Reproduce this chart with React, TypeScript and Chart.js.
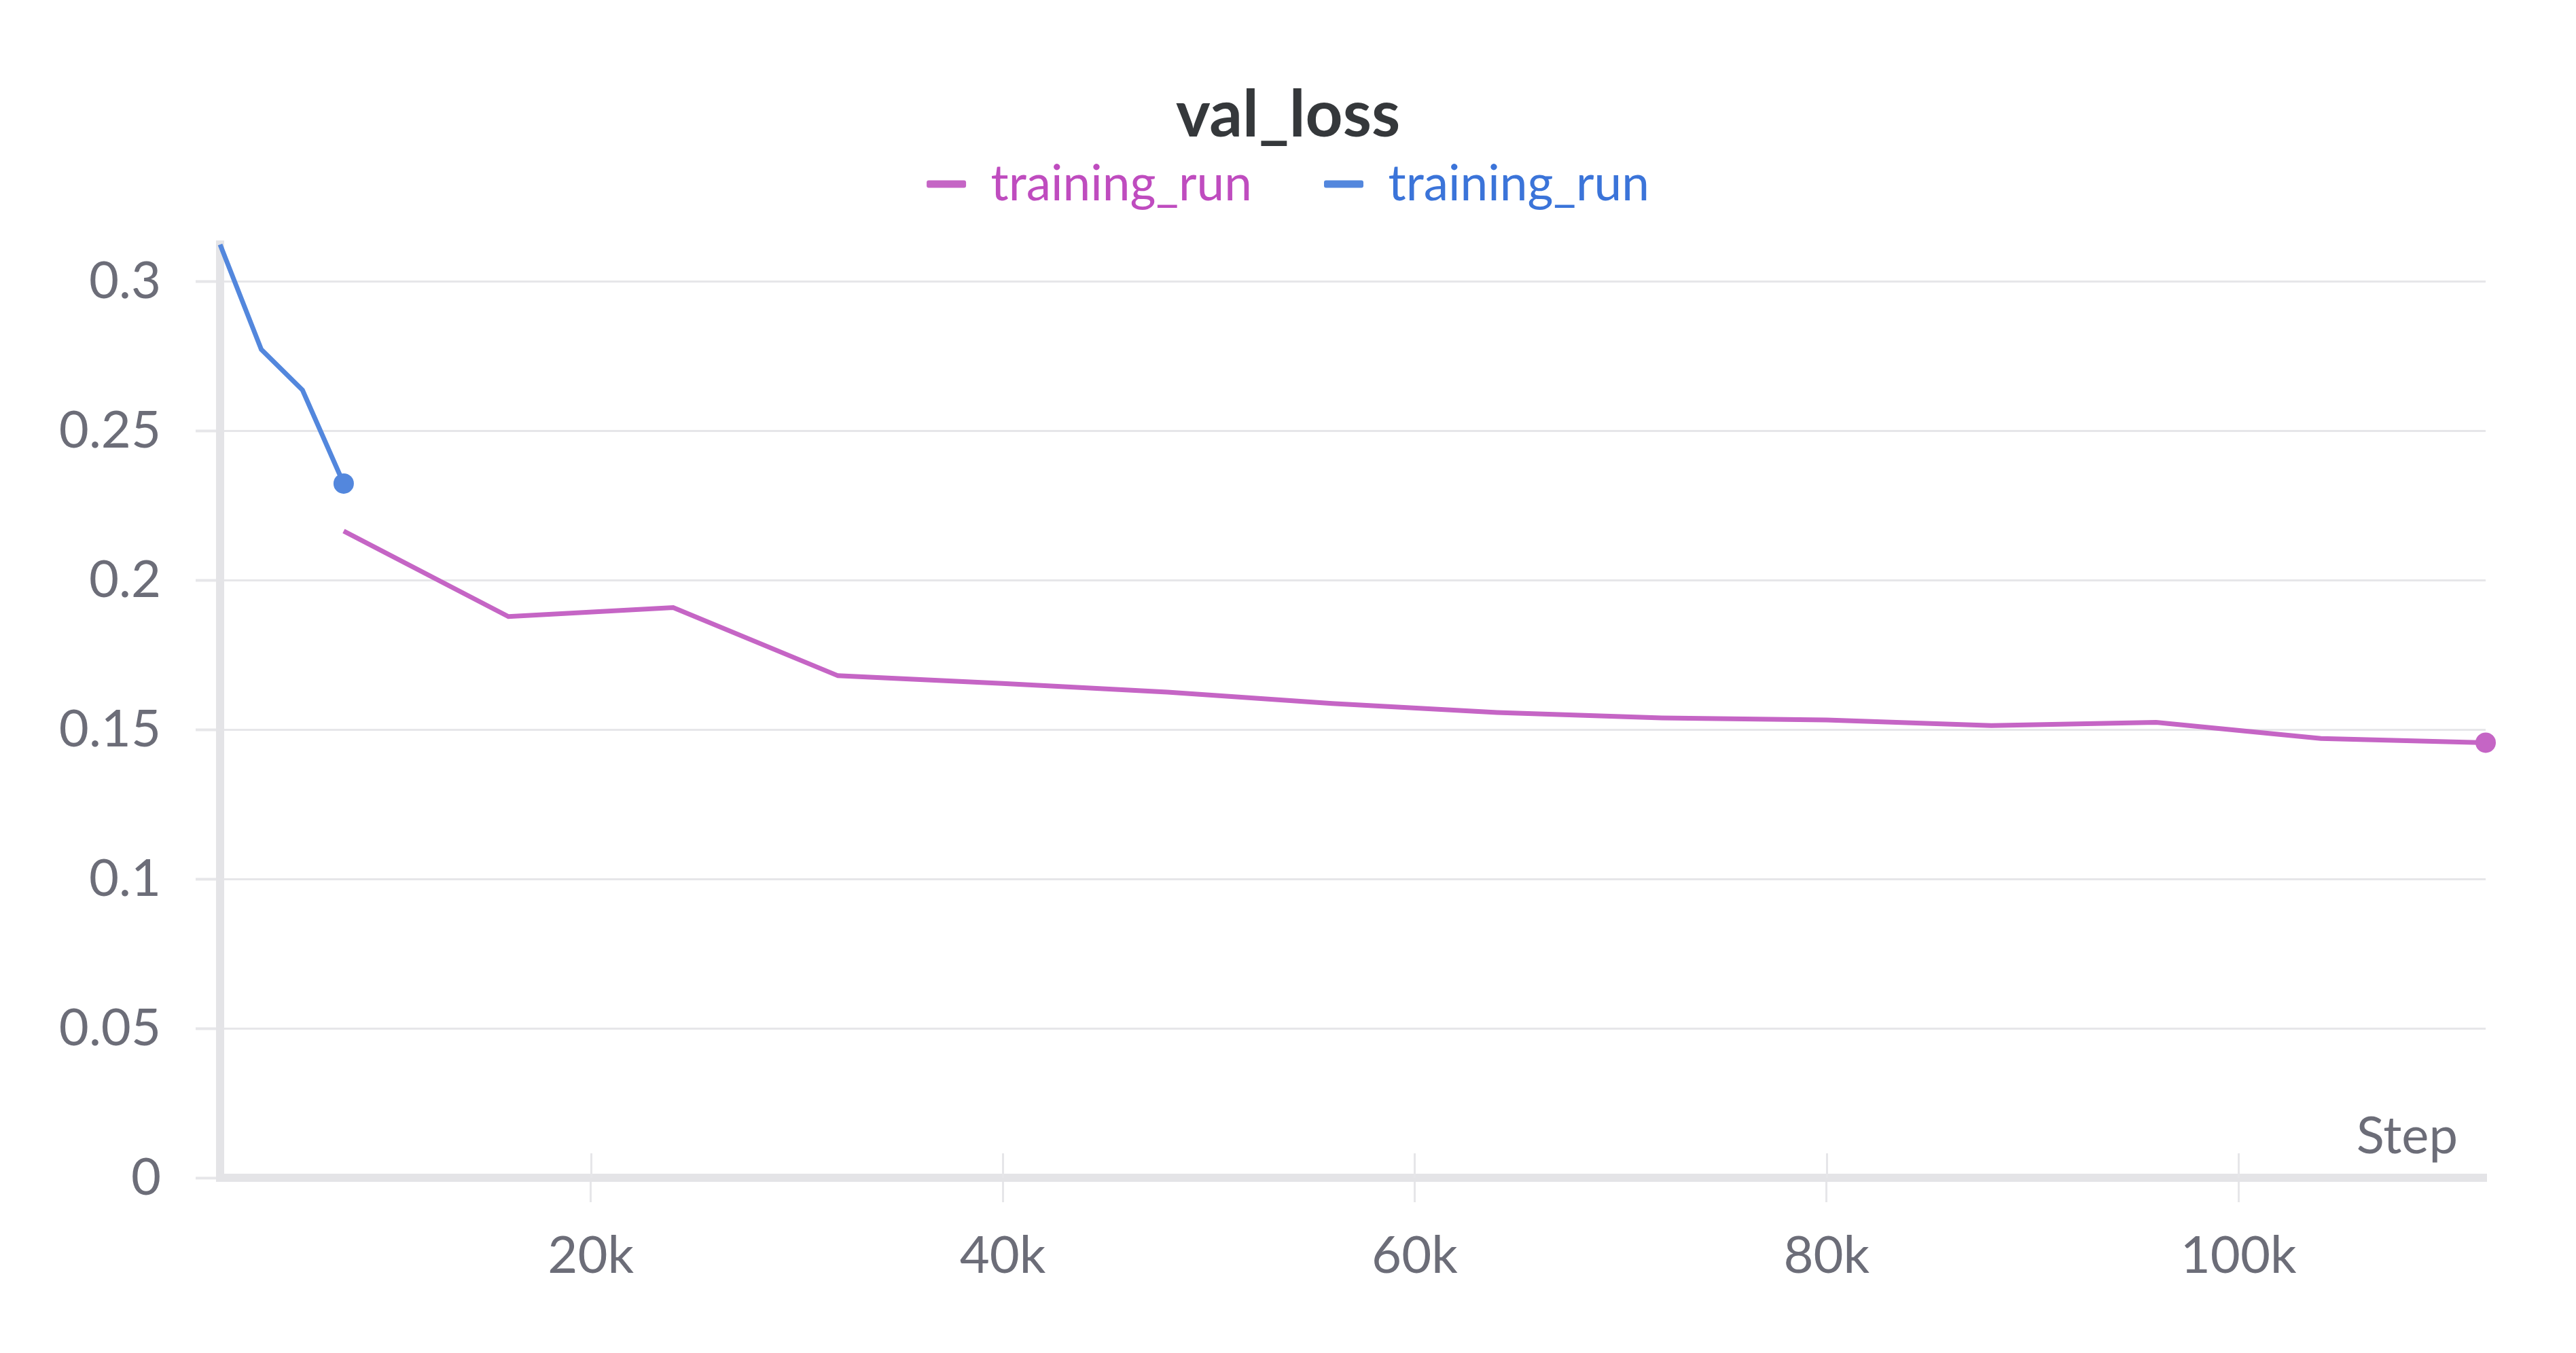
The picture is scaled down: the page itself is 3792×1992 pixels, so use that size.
import React, { useEffect, useRef } from "react";
import { Chart, registerables } from "chart.js";

Chart.register(...registerables);

// ---- data ----
const blueSteps = [2000, 4000, 6000, 8000];
const blueValues = [0.3123, 0.2772, 0.2636, 0.2323];
const pinkSteps = [8000, 16000, 24000, 32000, 40000, 48000, 56000, 64000, 72000, 80000, 88000, 96000, 104000, 112000];
const pinkValues = [0.2164, 0.1878, 0.1908, 0.168, 0.1654, 0.1625, 0.1587, 0.1557, 0.1539, 0.1532, 0.1513, 0.1524, 0.147, 0.1456];
const xTicks = [20000, 40000, 60000, 80000, 100000];
const yTicks = [0, 0.05, 0.1, 0.15, 0.2, 0.25, 0.3];
const seriesLabels = ["training_run", "training_run"];
const titleText = "val_loss";
const xAxisLabel = "Step";

const PINK = "#c565c5";
const BLUE = "#5387dd";
const PINK_TEXT = "#bf4cbf";
const BLUE_TEXT = "#3b74d9";
const TICK_COLOR = "#6c6d78";
const GRID = "#e6e6e9";
const AXIS = "#e4e4e7";
const FONT = "Lato";

const W = 3792;
const H = 1992;

const extrasPlugin = {
  id: "extras",
  afterDraw(chart: any) {
    const { ctx, chartArea } = chart;
    const xs = chart.scales.x;
    ctx.save();
    // tick marks reaching into the plot above the x axis
    ctx.strokeStyle = GRID;
    ctx.lineWidth = 3;
    for (const v of xTicks) {
      const px = Math.round(xs.getPixelForValue(v)) + 0.5;
      ctx.beginPath();
      ctx.moveTo(px, chartArea.bottom - 36);
      ctx.lineTo(px, chartArea.bottom);
      ctx.stroke();
    }
    // axis name inside the plot
    ctx.font = `76px ${FONT}`;
    ctx.fillStyle = TICK_COLOR;
    ctx.textAlign = "right";
    ctx.textBaseline = "alphabetic";
    ctx.fillText(xAxisLabel, chartArea.right - 41, chartArea.bottom - 36);
    ctx.restore();
  },
};

export default function App() {
  const ref = useRef<HTMLCanvasElement | null>(null);

  useEffect(() => {
    document.body.style.margin = "0";
    document.body.style.overflow = "hidden";
    const canvas = ref.current;
    if (!canvas) return;
    const yMax = Math.max(...blueValues, ...pinkValues);
    const chart = new Chart(canvas, {
      type: "line",
      data: {
        datasets: [
          {
            label: seriesLabels[0],
            data: pinkSteps.map((s, i) => ({ x: s, y: pinkValues[i] })),
            borderColor: PINK,
            backgroundColor: PINK,
            borderWidth: 7,
            pointRadius: (c: any) => (c.dataIndex === pinkSteps.length - 1 ? 15 : 0),
            pointBorderWidth: 0,
            pointHoverRadius: 0,
            tension: 0,
            clip: false as any,
            yAxisID: "y",
          },
          {
            label: seriesLabels[1],
            data: blueSteps.map((s, i) => ({ x: s, y: blueValues[i] })),
            borderColor: BLUE,
            backgroundColor: BLUE,
            borderWidth: 7,
            pointRadius: (c: any) => (c.dataIndex === blueSteps.length - 1 ? 15 : 0),
            pointBorderWidth: 0,
            pointHoverRadius: 0,
            tension: 0,
            clip: false as any,
            yAxisID: "y",
          },
        ],
      },
      options: {
        animation: false,
        responsive: false,
        devicePixelRatio: 1,
        events: [],
        layout: { padding: { top: 0, left: 0, right: 0, bottom: 0 } },
        plugins: {
          tooltip: { enabled: false },
          title: {
            display: true,
            text: titleText,
            color: "#35383b",
            font: { family: FONT, size: 96, weight: "bold", lineHeight: 1.2 },
            padding: { top: 112, bottom: -98.7 },
          },
          subtitle: {
            display: true,
            text: "",
            weight: 500,
            font: { family: FONT, size: 10, lineHeight: 1 },
            padding: { top: 32.5, bottom: 0 },
          } as any,
          legend: {
            display: true,
            position: "top",
            labels: {
              font: { family: FONT, size: 73 },
              boxWidth: 58,
              boxHeight: 11,
              padding: 106,
              useBorderRadius: true,
              borderRadius: 3,
              generateLabels: (ch: any) =>
                ch.data.datasets.map((ds: any, i: number) => ({
                  text: ds.label,
                  fillStyle: ds.borderColor,
                  strokeStyle: ds.borderColor,
                  lineWidth: 0,
                  fontColor: i === 0 ? PINK_TEXT : BLUE_TEXT,
                  hidden: false,
                  datasetIndex: i,
                  borderRadius: 3,
                })),
            },
          } as any,
        },
        scales: {
          x: {
            type: "linear",
            min: 2000,
            max: 112000,
            afterBuildTicks: (s: any) => {
              s.ticks = xTicks.map((v) => ({ value: v }));
            },
            afterFit: (s: any) => {
              s.height = 258;
            },
            ticks: {
              color: TICK_COLOR,
              font: { family: FONT, size: 76 },
              padding: 34,
              maxRotation: 0,
              callback: (v: any) => `${Number(v) / 1000}k`,
            },
            grid: {
              display: true,
              drawOnChartArea: false,
              drawTicks: true,
              tickLength: 36,
              color: GRID,
              lineWidth: 3,
            },
            border: { display: true, color: AXIS, width: 12 },
          },
          y: {
            type: "linear",
            position: "left",
            min: 0,
            max: yMax,
            afterBuildTicks: (s: any) => {
              s.ticks = yTicks.map((v) => ({ value: v }));
            },
            afterFit: (s: any) => {
              s.width = 324;
            },
            ticks: {
              color: TICK_COLOR,
              font: { family: FONT, size: 76 },
              padding: 51,
              callback: (v: any) => String(Number(Number(v).toFixed(2))),
            },
            grid: {
              display: true,
              drawTicks: true,
              tickLength: 36,
              color: GRID,
              lineWidth: 3,
              tickWidth: 4,
            },
            border: { display: true, color: AXIS, width: 12 },
          },
          yRightSpace: {
            type: "linear",
            position: "right",
            display: true,
            min: 0,
            max: 1,
            afterFit: (s: any) => {
              s.width = 133;
            },
            ticks: { display: false },
            grid: { display: false, drawTicks: false },
            border: { display: false },
          },
        },
      },
      plugins: [extrasPlugin],
    } as any);
    return () => chart.destroy();
  }, []);

  return (
    <div style={{ position: "absolute", left: 0, top: 0, width: W, height: H, background: "#ffffff" }}>
      <canvas ref={ref} width={W} height={H} style={{ width: W, height: H, display: "block" }} />
    </div>
  );
}
